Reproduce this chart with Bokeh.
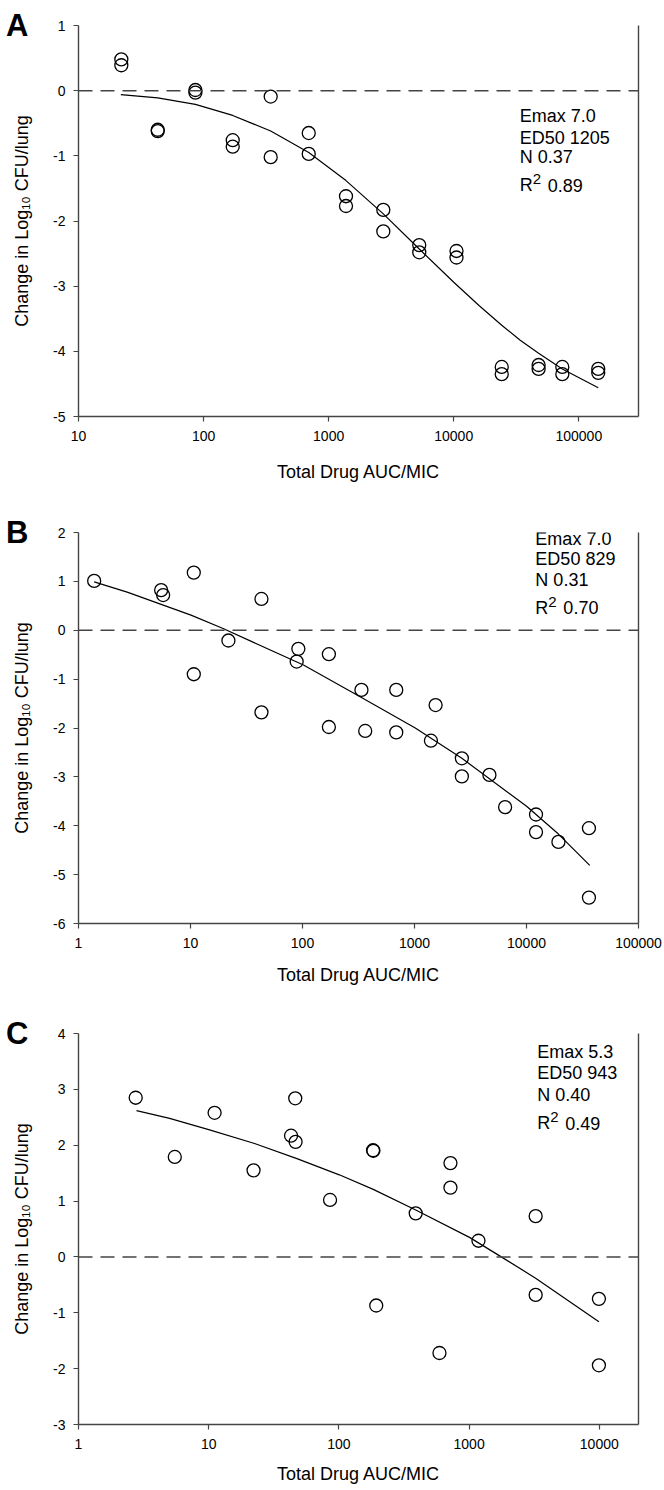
from bokeh.plotting import figure
from bokeh.layouts import column
from bokeh.models import Range1d, FixedTicker, LinearAxis, Span, Label, PrintfTickFormatter
from bokeh.embed import file_html
from bokeh.resources import INLINE

# ---------------- data ----------------
# Panel A
a_x = [22, 22, 43, 43, 86, 86, 171, 171, 344, 344, 693, 693, 1376, 1376,
       2735, 2735, 5300, 5300, 10520, 10520, 24200, 24200, 47700, 47700,
       73800, 73800, 143000, 143000]
a_y = [0.48, 0.39, -0.60, -0.62, 0.01, -0.03, -0.76, -0.86, -0.09, -1.02,
       -0.65, -0.97, -1.62, -1.77, -1.83, -2.16, -2.37, -2.48, -2.46, -2.56,
       -4.24, -4.35, -4.21, -4.27, -4.24, -4.35, -4.27, -4.33]
a_fit_x = [21.8, 43, 86, 171, 344, 693, 1376, 2735, 5300, 10000, 16000, 24200, 34000,
           47700, 73800, 143000]
a_fit_y = [-0.06, -0.11, -0.21, -0.38, -0.62, -0.95, -1.38, -1.89, -2.43, -2.94, -3.30,
           -3.60, -3.83, -4.03, -4.27, -4.56]
a_xticks = [10, 100, 1000, 10000, 100000]
a_yticks = [-5, -4, -3, -2, -1, 0, 1]
a_text = ["Emax 7.0", "ED50 1205", "N 0.37", "0.89"]

# Panel B
b_x = [1.38, 5.47, 5.7, 10.7, 10.7, 21.8, 43, 43, 91.8, 88.7, 172, 172, 336, 363,
       687, 687, 1402, 1543, 2648, 2648, 4667, 6440, 12160, 12160, 19280, 36100, 36100]
b_y = [1.01, 0.82, 0.72, 1.18, -0.90, -0.21, 0.64, -1.68, -0.38, -0.64, -0.49, -1.98,
       -1.22, -2.06, -1.22, -2.09, -2.26, -1.53, -2.62, -2.99, -2.96, -3.62, -3.77,
       -4.13, -4.33, -4.05, -5.47]
b_fit_x = [1.38, 2.72, 10.1, 19.3, 102, 327, 1016, 2648, 10020, 19280, 36700]
b_fit_y = [0.99, 0.78, 0.31, 0.04, -0.71, -1.36, -2.00, -2.62, -3.60, -4.17, -4.81]
b_xticks = [1, 10, 100, 1000, 10000, 100000]
b_yticks = [-6, -5, -4, -3, -2, -1, 0, 1, 2]
b_text = ["Emax 7.0", "ED50 829", "N 0.31", "0.70"]

# Panel C
c_x = [2.75, 5.49, 11.1, 22.1, 42.9, 46.2, 46.5, 85.5, 183, 184, 193.5, 389, 592,
       719, 719, 1180, 3245, 3245, 9930, 9930]
c_y = [2.85, 1.79, 2.58, 1.55, 2.17, 2.84, 2.06, 1.02, 1.91, 1.90, -0.87, 0.78,
       -1.72, 1.68, 1.24, 0.29, 0.73, -0.68, -0.75, -1.94]
c_fit_x = [2.79, 5.01, 10, 22.5, 47.6, 100.7, 183.6, 389, 1007, 1741, 3243, 9930]
c_fit_y = [2.62, 2.48, 2.28, 2.03, 1.76, 1.47, 1.21, 0.84, 0.35, 0.01, -0.38, -1.16]
c_xticks = [1, 10, 100, 1000, 10000]
c_yticks = [-3, -2, -1, 0, 1, 2, 3, 4]
c_text = ["Emax 5.3", "ED50 943", "N 0.40", "0.49"]

FONT = "Liberation Sans"
AXC = "#444444"


def make_panel(letter, xs, ys, fx, fy, xticks, yticks, xr, yr, texts, text_x, text_ys,
               top, bottom, title_standoff):
    p = figure(width=664, frame_width=560, frame_height=391,
               x_axis_type="log", x_range=Range1d(*xr), y_range=Range1d(*yr),
               output_backend="svg", toolbar_location=None,
               min_border_left=78, min_border_right=26,
               min_border_top=top, min_border_bottom=bottom,
               background_fill_color="white", border_fill_color="white")
    p.outline_line_color = None
    p.grid.visible = False

    for ax in (p.xaxis[0], p.yaxis[0]):
        ax.axis_line_color = AXC
        ax.axis_line_width = 1.4
        ax.major_tick_line_color = AXC
        ax.major_tick_line_width = 1.2
        ax.major_tick_in = 0
        ax.major_tick_out = 5
        ax.minor_tick_line_color = None
        ax.major_label_text_font = FONT
        ax.major_label_text_font_size = "14px"
        ax.major_label_text_color = "black"
        ax.axis_label_text_font = FONT
        ax.axis_label_text_font_size = "18px"
        ax.axis_label_text_font_style = "normal"
        ax.axis_label_text_color = "black"

    p.xaxis.ticker = FixedTicker(ticks=xticks, minor_ticks=[])
    p.xaxis.formatter = PrintfTickFormatter(format="%d")
    p.xaxis.major_label_overrides = {t: str(t) for t in xticks}
    p.xaxis.major_label_standoff = 9
    p.xaxis.axis_label = "Total Drug AUC/MIC"
    p.xaxis.axis_label_standoff = title_standoff

    p.yaxis.ticker = FixedTicker(ticks=yticks, minor_ticks=[])
    p.yaxis.major_label_overrides = {t: str(t) for t in yticks}
    p.yaxis.major_label_standoff = 8
    p.yaxis.axis_label = "Change in Log\u2081\u2080 CFU/lung"
    p.yaxis.axis_label_standoff = 18

    # outer left axis carrying only the panel letter, at the top of the frame
    top_val = yr[1]
    letter_axis = LinearAxis(ticker=FixedTicker(ticks=[top_val]),
                             major_label_overrides={top_val: letter},
                             axis_line_color=None, major_tick_line_color=None,
                             minor_tick_line_color=None, major_tick_in=0, major_tick_out=0,
                             major_label_standoff=-19,
                             major_label_text_font=FONT, major_label_text_font_size="31px",
                             major_label_text_font_style="bold",
                             major_label_text_color="black")
    p.add_layout(letter_axis, "left")

    right = LinearAxis(ticker=FixedTicker(ticks=[]), axis_line_color=AXC, axis_line_width=1.4,
                       major_tick_line_color=None, minor_tick_line_color=None,
                       major_label_text_font_size="0px")
    p.add_layout(right, "right")

    p.add_layout(Span(location=0, dimension="width", line_color=AXC,
                      line_width=1.5, line_dash="14 8"))

    p.line(fx, fy, line_color="black", line_width=1.2)
    p.scatter(xs, ys, marker="circle", size=13, fill_color=None,
              line_color="black", line_width=1.3)

    for t, ty in zip(texts[:3], text_ys[:3]):
        p.add_layout(Label(x=text_x, y=ty, text=t, text_font=FONT, text_font_size="18px",
                           text_baseline="middle", text_align="left", text_color="black"))
    ry = text_ys[3]
    p.add_layout(Label(x=text_x, y=ry, text="R", text_font=FONT, text_font_size="18px",
                       text_baseline="middle", text_align="left", text_color="black"))
    p.add_layout(Label(x=text_x, y=ry, x_offset=13, y_offset=6, text="2", text_font=FONT,
                       text_font_size="15px", text_baseline="middle", text_align="left",
                       text_color="black"))
    p.add_layout(Label(x=text_x, y=ry, x_offset=28, text=texts[3], text_font=FONT,
                       text_font_size="18px", text_baseline="middle", text_align="left",
                       text_color="black"))
    return p


pA = make_panel("A", a_x, a_y, a_fit_x, a_fit_y, a_xticks, a_yticks, (10, 300000), (-5, 1),
                a_text, 33700, [-0.396, -0.719, -1.025, -1.455], 25, 95, 18)
pB = make_panel("B", b_x, b_y, b_fit_x, b_fit_y, b_xticks, b_yticks, (1, 100000), (-6, 2),
                b_text, 12000, [1.857, 1.448, 1.018, 0.465], 21, 91, 14)
pC = make_panel("C", c_x, c_y, c_fit_x, c_fit_y, c_xticks, c_yticks, (1, 20000), (-3, 4),
                c_text, 3340, [3.665, 3.289, 2.903, 2.394], 19, 66, 12)

layout = column(pA, pB, pC, spacing=0)
open("out.html", "w").write(file_html(layout, INLINE))
